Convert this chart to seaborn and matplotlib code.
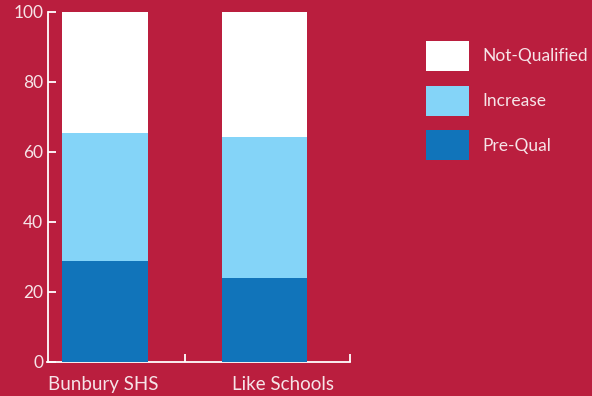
import matplotlib
matplotlib.use("Agg")
import matplotlib.pyplot as plt
import seaborn as sns
from matplotlib.patches import Patch

categories = ["Bunbury SHS", "Like Schools"]
pre_qual = [29.0, 24.0]
increase = [36.4, 40.3]
not_qualified = [34.6, 35.7]
series_names = ["Not-Qualified", "Increase", "Pre-Qual"]
y_ticks = [0, 20, 40, 60, 80, 100]

BG = "#BA1E3E"
C_NOT = "#FFFFFF"
C_INC = "#84D4F8"
C_PRE = "#1174BA"
TXT = "#F6E4E8"

sns.set_style("white")
plt.rcParams["font.family"] = ["Lato", "DejaVu Sans"]

fig = plt.figure(figsize=(5.92, 3.96), dpi=100, facecolor=BG)
ax = fig.add_axes([47.5/592, 34/396, (350-47.5)/592, (362-12)/396])
ax.set_facecolor(BG)

tot2 = [p + i for p, i in zip(pre_qual, increase)]
tot3 = [t + n for t, n in zip(tot2, not_qualified)]

w = 0.535
sns.barplot(x=categories, y=tot3, color=C_NOT, width=w, saturation=1, ax=ax, linewidth=0, zorder=3)
sns.barplot(x=categories, y=tot2, color=C_INC, width=w, saturation=1, ax=ax, linewidth=0, zorder=3)
sns.barplot(x=categories, y=pre_qual, color=C_PRE, width=w, saturation=1, ax=ax, linewidth=0, zorder=3)

ax.set_xlim(-0.36, 1.538)
ax.set_ylim(0, 100)
ax.set_yticks(y_ticks)
ax.set_yticklabels([str(v) for v in y_ticks])
ax.set_xticks([-0.01, 1.12])
ax.set_xticklabels(categories)
ax.set_xticks([0.5, 1.535], minor=True)
ax.tick_params(axis="x", which="major", bottom=True, length=0, pad=10, labelsize=13.5, colors=TXT)
ax.tick_params(axis="x", which="minor", bottom=True, length=6, width=1.3, color="white", direction="in")
ax.tick_params(axis="y", which="major", left=True, length=5.5, width=1.3, color="white",
               pad=3, labelsize=12.5, labelcolor=TXT, direction="in")
ax.set_xlabel("")
ax.set_ylabel("")
for s in ["top", "right"]:
    ax.spines[s].set_visible(False)
for s in ["left", "bottom"]:
    ax.spines[s].set_color("white")
    ax.spines[s].set_linewidth(1.3)
    ax.spines[s].set_zorder(2)
ax.grid(False)

handles = [Patch(facecolor=c, edgecolor="none") for c in [C_NOT, C_INC, C_PRE]]
leg = fig.legend(handles, series_names, loc="upper left",
                 bbox_to_anchor=(426/592, 1 - 41/396), frameon=False,
                 borderpad=0, borderaxespad=0, fontsize=12.5,
                 handlelength=2.47, handleheight=2.28, labelspacing=0.84,
                 handletextpad=0.75)
for t in leg.get_texts():
    t.set_color(TXT)

fig.savefig("out.png", dpi=100, facecolor=BG)
